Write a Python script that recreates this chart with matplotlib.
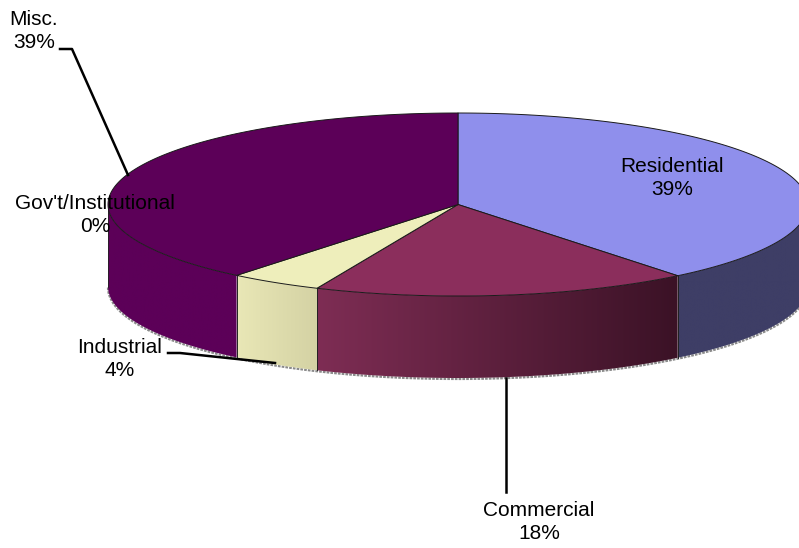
import numpy as np
import matplotlib
matplotlib.use('Agg')
import matplotlib.pyplot as plt
from matplotlib.patches import Polygon
from matplotlib.colors import LinearSegmentedColormap

plt.rcParams['font.family'] = ['Liberation Sans', 'DejaVu Sans']

# data
categories = ['Residential', 'Commercial', 'Industrial', "Gov't/Institutional", 'Misc.']
shares = [39.2, 17.4, 4.3, 0.0, 39.1]
percent_labels = ['39%', '18%', '4%', '0%', '39%']

# colours: top face, wall left end, wall right end
top_colors = ['#8f8fec', '#8b2e5c', '#eeeebb', '#9d9d9d', '#5c0058']
wall_left = ['#3e3e66', '#7e2d54', '#e9e7b6', '#5c5c5c', '#5c0058']
wall_right = ['#3e3e66', '#3b1226', '#d4d2a4', '#5c5c5c', '#5c0058']

# label centres in pixels
label_xy = [(672, 178), (539, 522), (120, 359), (95, 215), (34, 31)]

# ellipse geometry in pixels
cx, cy = 458, 204.5
rx, ry = 350, 91.5
depth = 82

fig = plt.figure(figsize=(7.99, 5.48), dpi=100)
ax = fig.add_axes([0, 0, 1, 1])
ax.set_xlim(0, 799)
ax.set_ylim(548, 0)
ax.axis('off')

# slice angles, clockwise from twelve o'clock
fractions = np.array(shares) / sum(shares)
ends = np.pi / 2 - 2 * np.pi * np.cumsum(fractions)
starts = np.concatenate([[np.pi / 2], ends[:-1]])


def rim(t, drop=0.0):
    return cx + rx * np.cos(t), cy - ry * np.sin(t) + drop


# soft shadow under the rim
t_low = np.linspace(-np.pi, 0, 300)
sx, sy = rim(t_low, depth + 1)
ax.plot(sx, sy, color='#8a8a8a', lw=1.6, ls=(0, (1.2, 0.5)), zorder=1)

# side walls
for a, b, left, right in zip(starts, ends, wall_left, wall_right):
    # only the front part of the disc shows a wall
    lo = max(b, -np.pi)
    hi = min(a, 0.0)
    if hi <= lo:
        continue
    t = np.linspace(hi, lo, 120)
    x_top, y_top = rim(t)
    x_bot, y_bot = rim(t, depth)
    xy = np.column_stack([np.r_[x_top, x_bot[::-1]], np.r_[y_top, y_bot[::-1]]])
    poly = Polygon(xy, closed=True, facecolor='none', edgecolor='none', zorder=2)
    ax.add_patch(poly)
    cmap = LinearSegmentedColormap.from_list('wall', [left, right])
    im = ax.imshow(np.linspace(0, 1, 256)[None, :], cmap=cmap, aspect='auto', zorder=2,
                   extent=(x_top.min(), x_top.max(), y_bot.max() + 1, y_top.min() - 1))
    im.set_clip_path(poly)
    # dark line at the wall's seams
    ax.plot([x_top[0], x_bot[0]], [y_top[0], y_bot[0]], color='#222222', lw=0.6, zorder=3)
    ax.plot([x_top[-1], x_bot[-1]], [y_top[-1], y_bot[-1]], color='#222222', lw=0.6, zorder=3)

ax.set_xlim(0, 799)
ax.set_ylim(548, 0)

# top faces
for a, b, color, share in zip(starts, ends, top_colors, shares):
    if share == 0:
        continue
    t = np.linspace(a, b, 240)
    x, y = rim(t)
    xy = np.column_stack([np.r_[cx, x], np.r_[cy, y]])
    ax.add_patch(Polygon(xy, closed=True, facecolor=color, edgecolor='#1a1a1a',
                         lw=0.7, joinstyle='round', zorder=4))

# leader lines
ax.plot([60, 72, 128], [49, 49, 175], color='black', lw=1.8, zorder=5)
ax.plot([168, 180, 275], [353, 353, 363], color='black', lw=1.8, zorder=5)
ax.plot([506, 506], [378, 492], color='black', lw=1.8, zorder=5)

# labels
for name, pct, (lx, ly) in zip(categories, percent_labels, label_xy):
    ax.text(lx, ly, f'{name}\n{pct}', ha='center', va='center',
            fontsize=15, linespacing=1.33, color='black', zorder=6)

fig.savefig('out.png', dpi=100)
